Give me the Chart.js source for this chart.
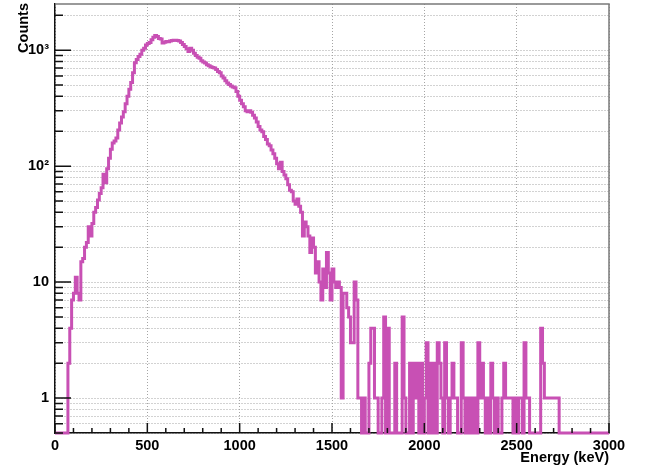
<!DOCTYPE html>
<html>
<head>
<meta charset="utf-8">
<title>Energy spectrum</title>
<script src="https://cdn.jsdelivr.net/npm/chart.js@4/dist/chart.umd.min.js"></script>
<style>
  html, body { margin: 0; padding: 0; background: #fff; }
  canvas { display: block; }
</style>
</head>
<body>
<canvas id="spectrum" width="649" height="471"></canvas>
<script>
// histogram: 10 keV bins from 0 to 3000 keV
const BIN_WIDTH = 10;
const X_MIN = 0;
const X_MAX = 3000;
const Y_MIN = 0.5;
const Y_MAX = 2500;

const COUNTS = [
  // 0 - 490 keV
  0, 0, 0, 0, 0, 0, 0, 2, 4, 7,
  8, 11, 8, 7, 15, 16, 20, 22, 30, 25,
  32, 40, 44, 51, 58, 65, 85, 72, 95, 117,
  140, 158, 165, 175, 205, 235, 265, 295, 345, 400,
  460, 525, 640, 780, 830, 880, 920, 1000, 1040, 1110,
  // 500 - 990 keV
  1140, 1165, 1230, 1290, 1340, 1310, 1260, 1250, 1150, 1170,
  1190, 1180, 1200, 1210, 1220, 1220, 1210, 1200, 1165, 1120,
  1075, 1030, 975, 1040, 1000, 940, 900, 870, 850, 810,
  790, 775, 750, 735, 720, 710, 700, 680, 655, 640,
  600, 575, 545, 520, 505, 490, 480, 473, 440, 400,
  // 1000 - 1490 keV
  370, 345, 325, 300, 295, 300, 292, 275, 260, 240,
  220, 205, 198, 180, 170, 155, 150, 138, 128, 117,
  105, 95, 108, 90, 84, 78, 69, 62, 60, 50,
  47, 52, 45, 40, 25, 33, 30, 25, 18, 24,
  20, 12, 15, 10, 7, 13, 9, 18, 12, 7,
  // 1500 - 1990 keV
  13, 10, 9, 10, 9, 1, 8, 8, 6, 5,
  3, 3, 10, 7, 1, 1, 0, 1, 0, 0,
  2, 4, 4, 1, 1, 0, 0, 1, 5, 0,
  4, 0, 0, 0, 2, 0, 0, 0, 5, 1,
  0, 0, 2, 0, 2, 1, 2, 0, 2, 0,
  // 2000 - 2490 keV
  1, 3, 0, 2, 0, 2, 0, 3, 2, 1,
  0, 3, 1, 0, 1, 2, 1, 1, 0, 0,
  3, 1, 0, 1, 0, 1, 0, 1, 0, 3,
  1, 2, 1, 0, 1, 0, 2, 1, 0, 1,
  0, 0, 1, 2, 1, 1, 1, 1, 0, 1,
  // 2500 - 2990 keV
  0, 1, 1, 0, 3, 1, 1, 0, 0, 0,
  0, 0, 0, 4, 2, 1, 1, 1, 1, 1,
  1, 1, 1, 0, 0, 0, 0, 0, 0, 0,
  0, 0, 0, 0, 0, 0, 0, 0, 0, 0,
  0, 0, 0, 0, 0, 0, 0, 0, 0, 0
];

const X_TICKS = [0, 500, 1000, 1500, 2000, 2500, 3000];
const X_MINOR_STEP = 100;
const Y_GRID = [0.5, 0.6, 0.7, 0.8, 0.9,
  1, 2, 3, 4, 5, 6, 7, 8, 9,
  10, 20, 30, 40, 50, 60, 70, 80, 90,
  100, 200, 300, 400, 500, 600, 700, 800, 900,
  1000, 2000];
const Y_LABELS = { 1: '1', 10: '10', 100: '10²', 1000: '10³' };

const X_TITLE = 'Energy (keV)';
const Y_TITLE = 'Counts';

const LINE_COLOR = 'rgb(200, 80, 180)';
const GRID_COLOR = '#a5a5a5';
const FONT = 'bold 14.5px "Liberation Sans", Arial, sans-serif';

// histogram points: left bin edges plus closing edge
const points = COUNTS.map((c, i) => ({ x: X_MIN + i * BIN_WIDTH, y: Math.max(c, Y_MIN) }));
points.push({ x: X_MAX, y: Math.max(COUNTS[COUNTS.length - 1], Y_MIN) });

// ROOT style frame, inward ticks and axis titles
const framePlugin = {
  id: 'rootFrame',
  afterDraw(chart) {
    const { ctx, chartArea: a } = chart;
    const xs = chart.scales.x;
    const ys = chart.scales.y;
    ctx.save();

    // top + right frame
    ctx.strokeStyle = '#7a7a7a';
    ctx.lineWidth = 1.5;
    ctx.beginPath();
    ctx.moveTo(a.left, a.top);
    ctx.lineTo(a.right, a.top);
    ctx.lineTo(a.right, a.bottom);
    ctx.stroke();

    // inward ticks
    ctx.strokeStyle = '#111';
    ctx.lineWidth = 1.5;
    ctx.beginPath();
    for (let v = X_MIN; v <= X_MAX; v += X_MINOR_STEP) {
      const px = xs.getPixelForValue(v);
      const len = X_TICKS.includes(v) ? 10 : 5;
      ctx.moveTo(px, a.bottom);
      ctx.lineTo(px, a.bottom - len);
    }
    Y_GRID.forEach(v => {
      const py = ys.getPixelForValue(v);
      const len = Y_LABELS[v] ? 16 : 8;
      ctx.moveTo(a.left, py);
      ctx.lineTo(a.left + len, py);
    });
    ctx.stroke();

    // titles
    ctx.fillStyle = '#000';
    ctx.font = FONT;
    ctx.textAlign = 'right';
    ctx.textBaseline = 'alphabetic';
    ctx.fillText(X_TITLE, a.right, 462);

    ctx.translate(28, a.top - 1);
    ctx.rotate(-Math.PI / 2);
    ctx.textAlign = 'right';
    ctx.fillText(Y_TITLE, 0, 0);
    ctx.restore();
  }
};

const ctx = document.getElementById('spectrum').getContext('2d');

new Chart(ctx, {
  type: 'line',
  data: {
    datasets: [{
      label: 'Counts',
      data: points,
      stepped: true,
      borderColor: LINE_COLOR,
      borderWidth: 3,
      pointRadius: 0,
      fill: false,
      tension: 0,
      clip: false
    }]
  },
  options: {
    responsive: false,
    animation: false,
    layout: { padding: { left: 0, top: 4, right: 40, bottom: 0 } },
    plugins: {
      legend: { display: false },
      tooltip: { enabled: false }
    },
    scales: {
      x: {
        type: 'linear',
        min: X_MIN,
        max: X_MAX,
        afterBuildTicks: scale => { scale.ticks = X_TICKS.map(v => ({ value: v })); },
        afterFit: scale => {
          scale.height = 38;
          scale.paddingLeft = 0;
          scale.paddingRight = 0;
        },
        grid: { color: GRID_COLOR, lineWidth: 1, drawTicks: false },
        border: { color: '#111', width: 1.5, dash: [1, 2] },
        ticks: {
          color: '#000',
          font: { family: '"Liberation Sans", Arial, sans-serif', size: 14.5, weight: 'bold' },
          padding: 4,
          maxRotation: 0,
          callback: v => String(v)
        }
      },
      y: {
        type: 'logarithmic',
        min: Y_MIN,
        max: Y_MAX,
        afterBuildTicks: scale => { scale.ticks = Y_GRID.map(v => ({ value: v })); },
        afterFit: scale => {
          scale.width = 55;
          scale.paddingTop = 0;
          scale.paddingBottom = 0;
        },
        grid: { color: GRID_COLOR, lineWidth: 1, drawTicks: false },
        border: { color: '#111', width: 1.5, dash: [1, 2] },
        ticks: {
          color: '#000',
          font: { family: '"Liberation Sans", Arial, sans-serif', size: 14.5, weight: 'bold' },
          padding: 6,
          autoSkip: false,
          callback: v => Y_LABELS[v] || ''
        }
      }
    }
  },
  plugins: [framePlugin]
});
</script>
</body>
</html>
